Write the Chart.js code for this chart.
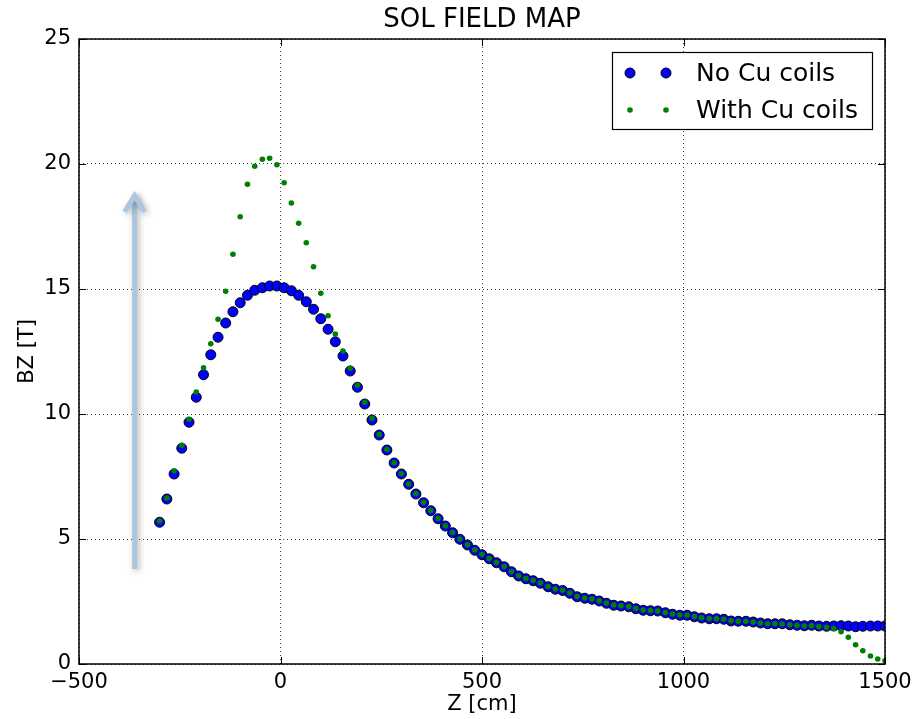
<!DOCTYPE html>
<html>
<head>
<meta charset="utf-8">
<title>SOL FIELD MAP</title>
<script src="https://cdn.jsdelivr.net/npm/chart.js@4.4.1/dist/chart.umd.min.js"></script>
<style>
  html, body { margin: 0; padding: 0; background: #fff; }
  canvas { display: block; }
</style>
</head>
<body>
<canvas id="fieldMap" width="920" height="719"></canvas>
<script>
// Z positions along the solenoid axis (cm)
const zValues = [
  -300, -282, -264, -245, -227, -209, -191, -173, -155, -136,
  -118, -100, -82, -64, -45, -27, -9, 9, 27, 45,
  64, 82, 100, 118, 136, 155, 173, 191, 209, 227,
  245, 264, 282, 300, 318, 336, 355, 373, 391, 409,
  427, 445, 464, 482, 500, 518, 536, 555, 573, 591,
  609, 627, 645, 664, 682, 700, 718, 736, 755, 773,
  791, 809, 827, 845, 864, 882, 900, 918, 936, 955,
  973, 991, 1009, 1027, 1045, 1064, 1082, 1100, 1118, 1136,
  1155, 1173, 1191, 1209, 1227, 1245, 1264, 1282, 1300, 1318,
  1336, 1355, 1373, 1391, 1409, 1427, 1445, 1464, 1482, 1500
];

// BZ (T) without the copper coils
const bzNoCu = [
  5.67, 6.60, 7.60, 8.63, 9.67, 10.67, 11.57, 12.37, 13.07, 13.64,
  14.09, 14.45, 14.75, 14.95, 15.05, 15.12, 15.12, 15.05, 14.93, 14.75,
  14.49, 14.19, 13.81, 13.39, 12.89, 12.32, 11.72, 11.07, 10.40, 9.76,
  9.16, 8.56, 8.04, 7.60, 7.19, 6.80, 6.45, 6.13, 5.81, 5.52,
  5.25, 4.99, 4.76, 4.55, 4.37, 4.21, 4.05, 3.89, 3.69, 3.52,
  3.41, 3.33, 3.23, 3.09, 2.99, 2.94, 2.83, 2.69, 2.63, 2.59,
  2.52, 2.43, 2.35, 2.32, 2.29, 2.21, 2.15, 2.13, 2.12, 2.05,
  1.99, 1.95, 1.95, 1.89, 1.84, 1.81, 1.81, 1.79, 1.72, 1.71,
  1.71, 1.68, 1.64, 1.61, 1.61, 1.61, 1.57, 1.55, 1.53, 1.55,
  1.52, 1.51, 1.52, 1.53, 1.52, 1.49, 1.51, 1.52, 1.52, 1.52
];

// BZ (T) with the copper coils
const bzWithCu = [
  5.72, 6.64, 7.73, 8.75, 9.79, 10.88, 11.85, 12.81, 13.79, 14.91,
  16.39, 17.89, 19.19, 19.91, 20.19, 20.23, 19.97, 19.25, 18.44, 17.63,
  16.85, 15.89, 14.83, 13.93, 13.20, 12.52, 11.83, 11.15, 10.47, 9.83,
  9.18, 8.58, 8.05, 7.61, 7.20, 6.81, 6.46, 6.14, 5.82, 5.53,
  5.26, 5.00, 4.77, 4.56, 4.38, 4.22, 4.06, 3.90, 3.70, 3.53,
  3.42, 3.34, 3.24, 3.10, 3.00, 2.95, 2.84, 2.70, 2.64, 2.60,
  2.53, 2.44, 2.36, 2.33, 2.30, 2.22, 2.16, 2.14, 2.12, 2.06,
  2.00, 1.96, 1.95, 1.90, 1.85, 1.82, 1.81, 1.79, 1.73, 1.71,
  1.71, 1.68, 1.64, 1.61, 1.61, 1.60, 1.57, 1.54, 1.52, 1.53,
  1.50, 1.47, 1.42, 1.29, 1.07, 0.77, 0.53, 0.32, 0.20, 0.13
];

const chartTitle = 'SOL FIELD MAP';
const seriesLabels = ['No Cu coils', 'With Cu coils'];
const xTicks = [-500, 0, 500, 1000, 1500];
const yTicks = [0, 5, 10, 15, 20, 25];

// the blue arrow drawn on the left (data units)
const arrowZ = -362;
const arrowFrom = 3.8;
const arrowTo = 18.85;

const FONT = 'DejaVu Sans';

function toPoints(ys) {
  return zValues.map((z, i) => ({ x: z, y: ys[i] }));
}

function tickLabel(v) {
  return String(v).replace('-', '\u2212');
}

// title centred over the axes box (matplotlib does this, Chart.js centres on the canvas)
const titlePlugin = {
  id: 'axesTitle',
  afterDraw(chart) {
    const { ctx, chartArea: a } = chart;
    ctx.save();
    ctx.font = '26px "' + FONT + '"';
    ctx.fillStyle = '#000';
    ctx.textAlign = 'center';
    ctx.textBaseline = 'middle';
    ctx.fillText(chartTitle, (a.left + a.right) / 2, a.top - 19);
    ctx.restore();
  }
};

// inner ticks + black frame, like old matplotlib axes
const framePlugin = {
  id: 'frame',
  afterDatasetsDraw(chart) {
    const { ctx, chartArea: a, scales } = chart;
    const len = 7;
    ctx.save();
    ctx.strokeStyle = '#000';
    ctx.lineWidth = 1;
    ctx.beginPath();
    xTicks.forEach(v => {
      const x = Math.round(scales.x.getPixelForValue(v)) + 0.5;
      ctx.moveTo(x, a.bottom); ctx.lineTo(x, a.bottom - len);
      ctx.moveTo(x, a.top); ctx.lineTo(x, a.top + len);
    });
    yTicks.forEach(v => {
      const y = Math.round(scales.y.getPixelForValue(v)) + 0.5;
      ctx.moveTo(a.left, y); ctx.lineTo(a.left + len, y);
      ctx.moveTo(a.right, y); ctx.lineTo(a.right - len, y);
    });
    ctx.stroke();
    ctx.lineWidth = 1.5;
    ctx.strokeRect(a.left, a.top, a.right - a.left, a.bottom - a.top);
    ctx.restore();
  }
};

// shaded arrow annotation
const arrowPlugin = {
  id: 'arrow',
  beforeDatasetsDraw(chart) {
    const { ctx, scales } = chart;
    const x = scales.x.getPixelForValue(arrowZ);
    const y0 = scales.y.getPixelForValue(arrowFrom);
    const y1 = scales.y.getPixelForValue(arrowTo);
    ctx.save();
    ctx.shadowColor = 'rgba(0,0,0,0.3)';
    ctx.shadowBlur = 6;
    ctx.shadowOffsetX = 2;
    ctx.shadowOffsetY = 2;
    ctx.strokeStyle = '#abc6de';
    ctx.lineWidth = 5;
    ctx.lineCap = 'butt';
    ctx.lineJoin = 'miter';
    ctx.beginPath();
    ctx.moveTo(x, y0);
    ctx.lineTo(x, y1 + 2);
    ctx.stroke();
    ctx.beginPath();
    ctx.moveTo(x - 10, y1 + 19);
    ctx.lineTo(x, y1 + 3);
    ctx.lineTo(x + 10, y1 + 19);
    ctx.stroke();
    ctx.restore();
  }
};

// matplotlib style legend with two markers per entry
const legendPlugin = {
  id: 'mplLegend',
  afterDraw(chart) {
    const { ctx, chartArea: a } = chart;
    const w = 260, h = 77;
    const left = a.right - 13 - w, top = a.top + 13;
    ctx.save();
    ctx.fillStyle = '#fff';
    ctx.fillRect(left, top, w, h);
    ctx.strokeStyle = '#000';
    ctx.lineWidth = 1.2;
    ctx.strokeRect(left + 0.5, top + 0.5, w, h);
    ctx.font = '25px "' + FONT + '"';
    ctx.textBaseline = 'middle';
    ctx.fillStyle = '#000';
    chart.data.datasets.forEach((ds, i) => {
      const cy = top + 21 + i * 37;
      [18, 54].forEach(dx => {
        ctx.beginPath();
        ctx.arc(left + dx, cy, ds.pointRadius, 0, Math.PI * 2);
        ctx.fillStyle = ds.pointBackgroundColor;
        ctx.fill();
        if (ds.pointBorderWidth) {
          ctx.lineWidth = ds.pointBorderWidth;
          ctx.strokeStyle = ds.pointBorderColor;
          ctx.stroke();
        }
      });
      ctx.fillStyle = '#000';
      ctx.fillText(ds.label, left + 84, cy + 1);
    });
    ctx.restore();
  }
};

const gridOpts = { color: 'rgba(0,0,0,0.75)', lineWidth: 1, drawTicks: false };
const borderOpts = { display: false, dash: [1, 3] };

new Chart(document.getElementById('fieldMap').getContext('2d'), {
  type: 'scatter',
  data: {
    datasets: [
      {
        label: seriesLabels[0],
        data: toPoints(bzNoCu),
        pointRadius: 5,
        pointBackgroundColor: '#0000ff',
        pointBorderColor: '#000',
        pointBorderWidth: 1,
        order: 1,
        clip: 0
      },
      {
        label: seriesLabels[1],
        data: toPoints(bzWithCu),
        pointRadius: 2.8,
        pointBackgroundColor: '#008000',
        pointBorderColor: '#008000',
        pointBorderWidth: 0,
        order: 0,
        clip: 0
      }
    ]
  },
  options: {
    responsive: false,
    devicePixelRatio: 1,
    animation: false,
    layout: { padding: { left: 0, right: 35, top: 39, bottom: 0 } },
    plugins: {
      legend: { display: false },
      tooltip: { enabled: false },
      title: { display: false }
    },
    scales: {
      x: {
        type: 'linear',
        min: -500,
        max: 1500,
        afterFit: s => { s.height = 55; },
        afterBuildTicks: s => { s.ticks = xTicks.map(v => ({ value: v })); },
        ticks: {
          color: '#000',
          padding: 6,
          font: { family: FONT, size: 21 },
          callback: tickLabel,
          maxRotation: 0
        },
        grid: gridOpts,
        border: borderOpts,
        title: {
          display: true,
          text: 'Z [cm]',
          color: '#000',
          font: { family: FONT, size: 21 },
          padding: { top: 0, bottom: 2 }
        }
      },
      y: {
        type: 'linear',
        min: 0,
        max: 25,
        afterFit: s => { s.width = 79; },
        afterBuildTicks: s => { s.ticks = yTicks.map(v => ({ value: v })); },
        ticks: {
          color: '#000',
          padding: 8,
          font: { family: FONT, size: 21 },
          callback: tickLabel
        },
        grid: gridOpts,
        border: borderOpts,
        title: {
          display: true,
          text: 'BZ [T]',
          color: '#000',
          font: { family: FONT, size: 21 },
          padding: { top: 15, bottom: 0 }
        }
      }
    }
  },
  plugins: [arrowPlugin, framePlugin, legendPlugin, titlePlugin]
});
</script>
</body>
</html>
